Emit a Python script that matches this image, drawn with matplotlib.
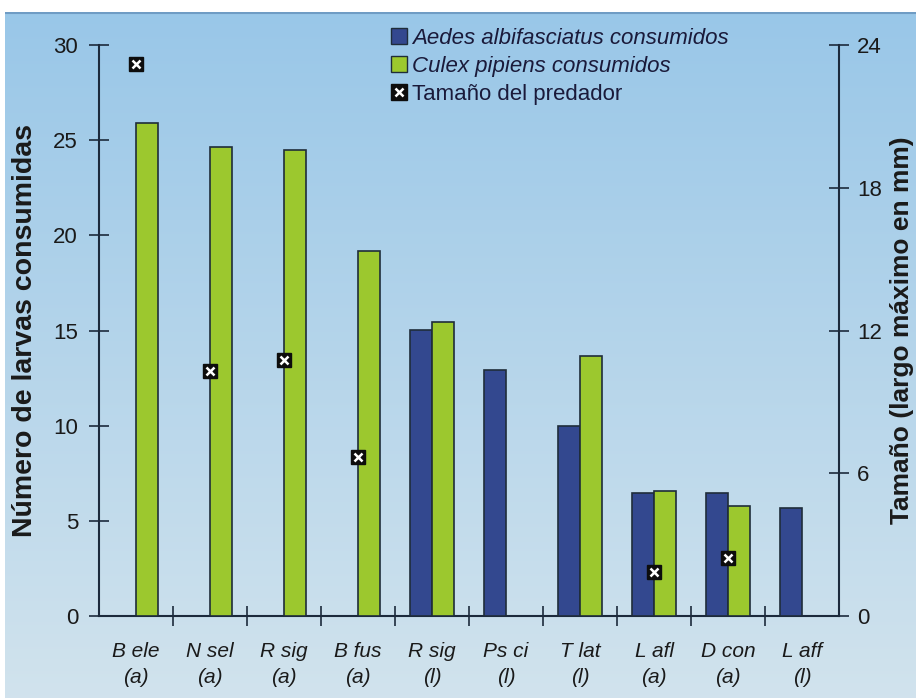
import matplotlib.pyplot as plt
import numpy as np
from matplotlib.lines import Line2D
from matplotlib.patches import Patch

# Datos
especies = ["B ele", "N sel", "R sig", "B fus", "R sig", "Ps ci", "T lat", "L afl", "D con", "L aff"]
estadio = ["(a)", "(a)", "(a)", "(a)", "(l)", "(l)", "(l)", "(a)", "(a)", "(l)"]
aedes = [np.nan, np.nan, np.nan, np.nan, 15.05, 12.9, 10.0, 6.45, 6.45, 5.7]
culex = [25.9, 24.65, 24.5, 19.2, 15.45, np.nan, 13.65, 6.55, 5.8, np.nan]
tamano = [23.2, 10.3, 10.75, 6.7, np.nan, np.nan, np.nan, 1.85, 2.45, np.nan]

azul = "#33488f"
verde = "#9cc82e"
borde = "#1f2d3a"
eje = "#1c2a3c"
texto = "#1a1a1a"
plt.rcParams["font.family"] = ["Liberation Sans", "DejaVu Sans"]

fig = plt.figure(figsize=(9.16, 6.98), dpi=100, facecolor="white")

# fondo degradado
bg = fig.add_axes([0.006, 0, 0.994, 0.983], zorder=-10)
grad = np.linspace(0, 1, 256).reshape(-1, 1)
c_top = np.array([0.60, 0.78, 0.91])
c_bot = np.array([0.82, 0.89, 0.93])
img = c_top + (c_bot - c_top) * grad[:, :, None]
bg.imshow(img, aspect="auto", extent=[0, 1, 0, 1])
bg.axhline(0.999, color="#6f9cc4", lw=1.5)
bg.axis("off")

ax = fig.add_axes([0.108, 0.1175, 0.808, 0.818])
ax.patch.set_alpha(0)
x = np.arange(len(especies))
w = 0.3
a = np.array(aedes)
c = np.array(culex)
m = ~np.isnan(a)
ax.bar(x[m] - w / 2, a[m], w, color=azul, edgecolor=borde, lw=1.2, zorder=3)
m = ~np.isnan(c)
ax.bar(x[m] + w / 2, c[m], w, color=verde, edgecolor=borde, lw=1.2, zorder=3)

ax.set_xlim(-0.5, len(especies) - 0.5)
ax.set_ylim(0, 30)
ax.set_yticks(range(0, 31, 5))
ax.set_xticks(x)
ax.set_xticklabels([f"{e}\n{s}" for e, s in zip(especies, estadio)],
                   fontstyle="italic", fontsize=15, linespacing=1.45, color=texto)
ax.set_xticks(np.arange(0.5, len(especies) - 1, 1), minor=True)
ax.tick_params(axis="x", which="major", length=0, pad=19)
ax.tick_params(axis="x", which="minor", length=14, direction="inout", color=eje, width=1.2)
ax.tick_params(axis="y", length=14, direction="inout", color=eje, width=1.2,
               labelsize=16, pad=8, labelcolor=texto)
for s in ["top", "right"]:
    ax.spines[s].set_visible(False)
for s in ["left", "bottom"]:
    ax.spines[s].set_color(eje)
    ax.spines[s].set_linewidth(1.5)
ax.set_ylabel("Número de larvas consumidas", fontsize=20.5, fontweight="bold", labelpad=11,
              color=texto)

ax2 = ax.twinx()
ax2.set_ylim(0, 24)
ax2.set_yticks(range(0, 25, 6))
ax2.tick_params(axis="y", length=14, direction="inout", color=eje, width=1.2,
                labelsize=16, pad=6, labelcolor=texto)
for s in ["top", "left", "bottom"]:
    ax2.spines[s].set_visible(False)
ax2.spines["right"].set_color(eje)
ax2.spines["right"].set_linewidth(1.5)
ax2.set_ylabel("Tamaño (largo máximo en mm)", fontsize=19, fontweight="bold", labelpad=6,
               color=texto)
ax2.plot(x, tamano, ls="none", marker="s", ms=10.5, color="#0d0d0d", zorder=5)
ax2.plot(x, tamano, ls="none", marker="x", ms=6, mew=1.8, color="white", zorder=6)

h1 = Patch(facecolor=azul, edgecolor=borde)
h2 = Patch(facecolor=verde, edgecolor=borde)
h3a = Line2D([], [], ls="none", marker="s", ms=11, color="#0d0d0d")
h3b = Line2D([], [], ls="none", marker="x", ms=6, mew=1.8, color="white")
leg = ax2.legend([h1, h2, (h3a, h3b)],
                 ["Aedes albifasciatus consumidos", "Culex pipiens consumidos", "Tamaño del predador"],
                 loc="upper left", bbox_to_anchor=(0.367, 1.065), frameon=False, fontsize=16,
                 handlelength=0.75, handleheight=0.75, handletextpad=0.2, labelspacing=0.32)
for t in leg.get_texts()[:2]:
    t.set_fontstyle("italic")
for t in leg.get_texts():
    t.set_color("#1a1a3a")

fig.savefig("out.png", dpi=100)
